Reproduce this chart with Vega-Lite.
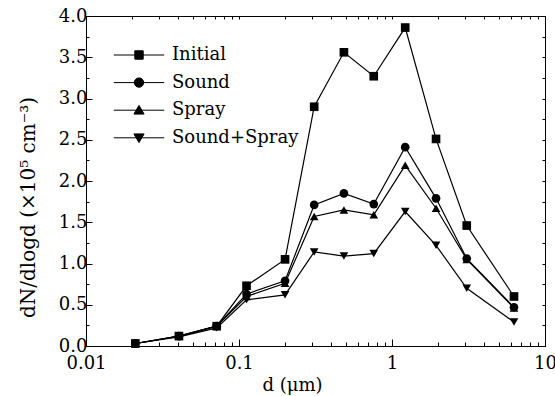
{
  "$schema": "https://vega.github.io/schema/vega-lite/v6.json",
  "width": 459,
  "height": 330,
  "autosize": "none",
  "padding": {"left": 86, "top": 16, "right": 10, "bottom": 50},
  "background": "white",
  "config": {
    "font": "DejaVu Serif",
    "view": {"stroke": "black", "strokeWidth": 1},
    "axis": {
      "labelFont": "DejaVu Serif",
      "titleFont": "DejaVu Serif",
      "labelColor": "black",
      "titleColor": "black",
      "tickColor": "black",
      "domainColor": "black",
      "grid": false,
      "domain": false,
      "labelFontSize": 18,
      "titleFontSize": 18,
      "titleFontWeight": "normal",
      "labelFlush": false,
      "labelOverlap": false
    },
    "legend": {"labelFont": "DejaVu Serif"}
  },
  "data": {
    "values": [
      {"d": 0.021, "v": 0.03, "s": "Initial"},
      {"d": 0.0405, "v": 0.12, "s": "Initial"},
      {"d": 0.0715, "v": 0.24, "s": "Initial"},
      {"d": 0.112, "v": 0.73, "s": "Initial"},
      {"d": 0.2, "v": 1.05, "s": "Initial"},
      {"d": 0.31, "v": 2.9, "s": "Initial"},
      {"d": 0.485, "v": 3.56, "s": "Initial"},
      {"d": 0.76, "v": 3.27, "s": "Initial"},
      {"d": 1.22, "v": 3.86, "s": "Initial"},
      {"d": 1.94, "v": 2.51, "s": "Initial"},
      {"d": 3.08, "v": 1.46, "s": "Initial"},
      {"d": 6.27, "v": 0.6, "s": "Initial"},
      {"d": 0.021, "v": 0.03, "s": "Sound"},
      {"d": 0.0405, "v": 0.12, "s": "Sound"},
      {"d": 0.0715, "v": 0.24, "s": "Sound"},
      {"d": 0.112, "v": 0.63, "s": "Sound"},
      {"d": 0.2, "v": 0.79, "s": "Sound"},
      {"d": 0.31, "v": 1.71, "s": "Sound"},
      {"d": 0.485, "v": 1.85, "s": "Sound"},
      {"d": 0.76, "v": 1.72, "s": "Sound"},
      {"d": 1.22, "v": 2.41, "s": "Sound"},
      {"d": 1.94, "v": 1.79, "s": "Sound"},
      {"d": 3.08, "v": 1.06, "s": "Sound"},
      {"d": 6.27, "v": 0.47, "s": "Sound"},
      {"d": 0.021, "v": 0.03, "s": "Spray"},
      {"d": 0.0405, "v": 0.12, "s": "Spray"},
      {"d": 0.0715, "v": 0.24, "s": "Spray"},
      {"d": 0.112, "v": 0.6, "s": "Spray"},
      {"d": 0.2, "v": 0.76, "s": "Spray"},
      {"d": 0.31, "v": 1.57, "s": "Spray"},
      {"d": 0.485, "v": 1.65, "s": "Spray"},
      {"d": 0.76, "v": 1.59, "s": "Spray"},
      {"d": 1.22, "v": 2.19, "s": "Spray"},
      {"d": 1.94, "v": 1.67, "s": "Spray"},
      {"d": 3.08, "v": 1.05, "s": "Spray"},
      {"d": 6.27, "v": 0.46, "s": "Spray"},
      {"d": 0.021, "v": 0.03, "s": "Sound+Spray"},
      {"d": 0.0405, "v": 0.11, "s": "Sound+Spray"},
      {"d": 0.0715, "v": 0.22, "s": "Sound+Spray"},
      {"d": 0.112, "v": 0.56, "s": "Sound+Spray"},
      {"d": 0.2, "v": 0.62, "s": "Sound+Spray"},
      {"d": 0.31, "v": 1.14, "s": "Sound+Spray"},
      {"d": 0.485, "v": 1.09, "s": "Sound+Spray"},
      {"d": 0.76, "v": 1.12, "s": "Sound+Spray"},
      {"d": 1.22, "v": 1.63, "s": "Sound+Spray"},
      {"d": 1.94, "v": 1.22, "s": "Sound+Spray"},
      {"d": 3.08, "v": 0.7, "s": "Sound+Spray"},
      {"d": 6.27, "v": 0.29, "s": "Sound+Spray"}
    ]
  },
  "layer": [
    {
      "mark": {"type": "line", "color": "black", "strokeWidth": 1.2},
      "encoding": {
        "x": {
          "field": "d", "type": "quantitative",
          "scale": {"type": "log", "domain": [0.01, 10], "nice": false},
          "axis": {
            "orient": "bottom",
            "title": "d (μm)",
            "titleX": 206,
            "titleY": 44,
            "titleAlign": "center",
            "titleBaseline": "alphabetic",
            "values": [0.01, 0.1, 1, 10],
            "format": "~g",
            "tickSize": -7,
            "labelPadding": 15
          }
        },
        "y": {
          "field": "v", "type": "quantitative",
          "scale": {"domain": [0, 4], "nice": false},
          "axis": {
            "orient": "left",
            "title": "dN/dlogd (×10⁵ cm⁻³)",
            "titleFontSize": 20,
            "titleX": -52,
            "titleY": 191,
            "titleBaseline": "alphabetic",
            "titleAlign": "center",
            "titleAngle": -90,
            "values": [0, 0.5, 1, 1.5, 2, 2.5, 3, 3.5, 4],
            "format": ".1f",
            "tickSize": -6,
            "labelPadding": 5
          }
        },
        "detail": {"field": "s"}
      }
    },
    {
      "mark": {"type": "point", "filled": true, "color": "black", "opacity": 1, "size": 75},
      "encoding": {
        "x": {
          "field": "d", "type": "quantitative",
          "axis": {
            "orient": "bottom", "title": null, "labels": false,
            "values": [0.02,0.03,0.04,0.05,0.06,0.07,0.08,0.09,0.2,0.3,0.4,0.5,0.6,0.7,0.8,0.9,2,3,4,5,6,7,8,9],
            "tickSize": -4
          }
        },
        "y": {
          "field": "v", "type": "quantitative",
          "axis": {
            "orient": "left", "title": null, "labels": false,
            "values": [0.25, 0.75, 1.25, 1.75, 2.25, 2.75, 3.25, 3.75],
            "tickSize": -3
          }
        },
        "shape": {
          "field": "s", "type": "nominal",
          "scale": {"domain": ["Initial", "Sound", "Spray", "Sound+Spray"], "range": ["square", "circle", "triangle-up", "triangle-down"]},
          "legend": null
        }
      }
    },
    {
      "transform": [{"filter": "datum.v < 0"}],
      "mark": {"type": "point", "filled": true, "color": "black", "stroke": "black", "strokeWidth": 1, "opacity": 1},
      "encoding": {
        "x": {
          "field": "d", "type": "quantitative",
          "axis": {
            "orient": "top", "title": null, "labels": false,
            "values": [0.01,0.02,0.03,0.04,0.05,0.06,0.07,0.08,0.09,0.1,0.2,0.3,0.4,0.5,0.6,0.7,0.8,0.9,1,2,3,4,5,6,7,8,9,10],
            "tickSize": -3
          }
        },
        "y": {
          "field": "v", "type": "quantitative",
          "axis": {
            "orient": "right", "title": null, "labels": false,
            "values": [0,0.25,0.5,0.75,1,1.25,1.5,1.75,2,2.25,2.5,2.75,3,3.25,3.5,3.75,4],
            "tickSize": -3
          }
        },
        "shape": {
          "field": "s", "type": "nominal",
          "scale": {
            "domain": ["Initial", "Sound", "Spray", "Sound+Spray"],
            "range": [
              "M-4.2,0H4.2M-0.7,-0.7H0.7V0.7H-0.7Z",
              "M-4.2,0H4.2M0.78,0A0.78,0.78,0,1,1,-0.78,0A0.78,0.78,0,1,1,0.78,0Z",
              "M-4.2,0H4.2M0,-0.8L0.85,0.65H-0.85Z",
              "M-4.2,0H4.2M0,0.8L0.85,-0.65H-0.85Z"
            ]
          },
          "legend": {
            "title": null,
            "orient": "none",
            "legendX": 44,
            "legendY": 30,
            "padding": 0,
            "symbolSize": 144,
            "symbolFillColor": "black",
            "symbolStrokeColor": "black",
            "symbolStrokeWidth": 1,
            "labelFont": "DejaVu Serif",
            "labelFontSize": 18,
            "labelColor": "black",
            "labelOffset": 24,
            "rowPadding": 9.6,
            "encoding": {
              "symbols": {
                "stroke": {"value": "black"},
                "strokeWidth": {"value": 1},
                "fill": {"value": "black"},
                "opacity": {"value": 1}
              }
            }
          }
        }
      }
    }
  ],
  "resolve": {
    "scale": {"shape": "independent"},
    "axis": {"x": "independent", "y": "independent"}
  }
}
